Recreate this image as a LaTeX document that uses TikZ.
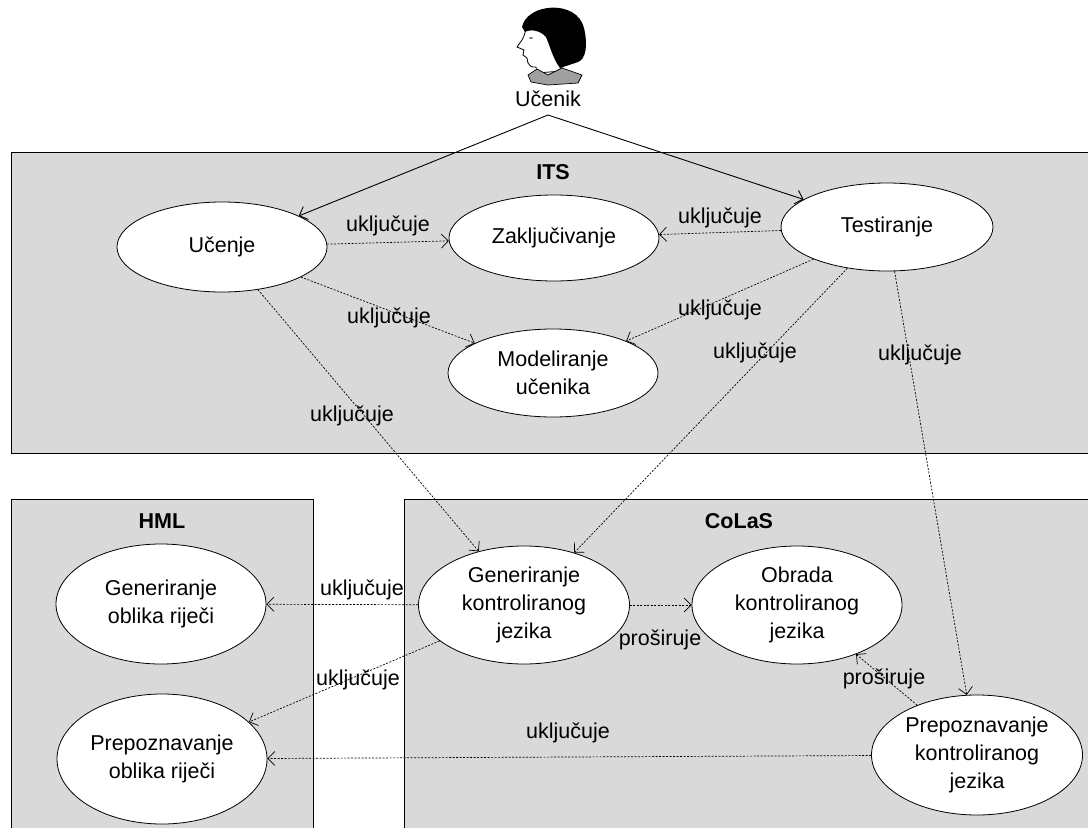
\documentclass[tikz,border=0pt]{standalone}
\usepackage{fontspec}
\setmainfont{Liberation Sans}
\usetikzlibrary{arrows.meta,shapes.geometric}
\definecolor{boxgray}{RGB}{217,217,217}
\definecolor{collargray}{RGB}{160,160,160}
\begin{document}
\begin{tikzpicture}[x=1pt,y=-1pt,
  uc/.style={ellipse, draw=black, line width=0.8pt, fill=white, inner sep=0pt, align=center,
     font=\fontsize{21.5}{28}\selectfont, minimum width=210pt, minimum height=#1},
  uc/.default=88pt,
  pkg/.style={draw=black, line width=0.8pt, fill=boxgray},
  rel/.style={draw=black, line width=0.7pt, dash pattern=on 2pt off 1.5pt,
     -{Straight Barb[length=7pt,width=14pt]}},
  assoc/.style={draw=black, line width=0.9pt, -{Straight Barb[length=7pt,width=14pt]}},
  lbl/.style={inner sep=0pt, font=\fontsize{21.5}{26}\selectfont},
  ttl/.style={inner sep=0pt, font=\fontsize{21.5}{26}\selectfont\bfseries}]
\useasboundingbox (0,0) rectangle (1088,828);
\clip (0,0) rectangle (1088,828);
\fill[white] (0,0) rectangle (1088,828);

% packages
\draw[pkg] (11,152) rectangle (1100,453);
\draw[pkg] (11,499) rectangle (313,840);
\draw[pkg] (404,499) rectangle (1100,840);
\node[ttl] (its) at (553,172) {ITS};
\node[ttl] (hml) at (162,521) {HML};
\node[ttl] (colas) at (739,521) {CoLaS};

% actor figure
\draw[fill=white, line width=0.8pt] (526,26) .. controls (525,34) .. (522,40) -- (517,47) -- (524,50)
  -- (523,55) -- (527,58) -- (528,63) .. controls (531,67) .. (536,67) -- (537,73) -- (562,71)
  -- (560,50) -- (545,27) -- cycle;
\fill[black] (522,27) .. controls (527,3) and (577,-1) .. (584,28)
  .. controls (588,45) and (586,59) .. (578,62) -- (560,68)
  .. controls (553,59) and (550,46) .. (546,37)
  .. controls (540,30) and (530,29) .. (525,32) -- cycle;
\draw[fill=collargray, line width=0.7pt] (528,75) -- (537,69) -- (548,75) -- (562,68) -- (582,75)
  -- (578,83) -- (548,85) -- (531,82) -- cycle;
\fill[gray] (531,38) ellipse (2pt and 1pt);
\node[lbl] (ucenik) at (548,99) {Učenik};
\coordinate (apex) at (548,115);

% use cases
\node[uc=90pt] (ucenje) at (222,247) {Učenje};
\node[uc=86pt] (zak) at (554,238) {Zaključivanje};
\node[uc=88pt, minimum width=212pt] (test) at (887,227) {Testiranje};
\node[uc=88pt] (model) at (553,373) {Modeliranje\\učenika};
\node[uc=120pt] (gor) at (161,604) {Generiranje\\oblika riječi};
\node[uc=130pt] (por) at (162,759) {Prepoznavanje\\oblika riječi};
\node[uc=118pt, minimum width=211pt] (gkj) at (524,605) {Generiranje\\kontroliranog\\jezika};
\node[uc=118pt] (okj) at (797,605) {Obrada\\kontroliranog\\jezika};
\node[uc=120pt, minimum width=211pt] (pkj) at (977,755) {Prepoznavanje\\kontroliranog\\jezika};

% actor associations
\draw[assoc] (apex) -- (ucenje);
\draw[assoc] (apex) -- (test);

% relations
\draw[rel] (ucenje) -- (zak);
\draw[rel] (test) -- (zak);
\draw[rel] (ucenje) -- (model);
\draw[rel] (test) -- (model);
\draw[rel] (ucenje) -- (gkj);
\draw[rel] (test) -- (gkj);
\draw[rel] (test) -- (pkj);
\draw[rel] (gkj) -- (gor);
\draw[rel] (gkj) -- (por);
\draw[rel] (gkj) -- (okj);
\draw[rel] (pkj) -- (okj);
\draw[rel] (pkj) -- (por);

% labels
\node[lbl] (l1) at (388,226) {uključuje};
\node[lbl] (l2) at (720,218) {uključuje};
\node[lbl] (l3) at (389,318) {uključuje};
\node[lbl] (l4) at (720,310) {uključuje};
\node[lbl] (l5) at (352,416) {uključuje};
\node[lbl] (l6) at (755,353) {uključuje};
\node[lbl] (l7) at (920,355) {uključuje};
\node[lbl] (l8) at (362,590) {uključuje};
\node[lbl] (l9) at (358,680) {uključuje};
\node[lbl] (l10) at (660,640) {proširuje};
\node[lbl] (l11) at (884,679) {proširuje};
\node[lbl] (l12) at (568,733) {uključuje};
\end{tikzpicture}
\end{document}
